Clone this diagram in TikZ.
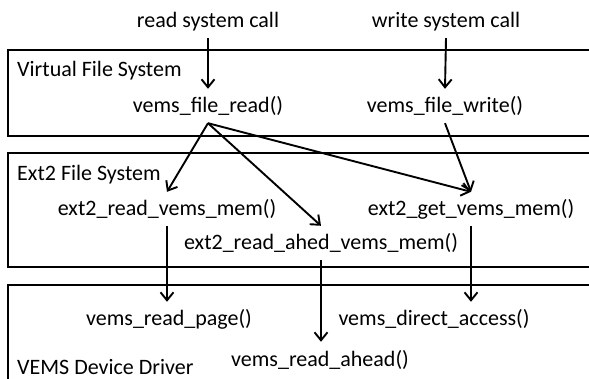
\documentclass[tikz,border=0pt]{standalone}
\usepackage{fontspec}
\setmainfont{Carlito}
\usetikzlibrary{arrows.meta}
\begin{document}
\begin{tikzpicture}[x=1pt,y=-1pt,
  layer/.style={line width=2pt},
  fn/.style={anchor=base,inner xsep=0pt,inner ysep=5pt,text height=19pt,text depth=5pt,
             font=\fontsize{22}{26}\selectfont},
  title/.style={anchor=base west,inner sep=0pt,font=\fontsize{22}{26}\selectfont},
  call/.style={line width=1.9pt,-{Straight Barb[length=8pt,width=13pt,line width=1.9pt]}}]
\useasboundingbox (0,0) rectangle (589,379);
\clip (0,0) rectangle (589,379);

% layer frames, open to the right (and the driver layer at the bottom)
\draw[layer] (600,50) -| (8,136) -- (600,136);
\draw[layer] (600,153) -| (8,267) -- (600,267);
\draw[layer] (600,285) -| (8,395);

% layer titles
\node[title] (vfs)  at (17,77)  {Virtual File System};
\node[title] (ext2) at (17,181) {Ext2 File System};
\node[title] (drv)  at (17,374) {VEMS Device Driver};

% system calls and functions
\node[fn] (rsc)  at (208,28)  {read system call};
\node[fn] (wsc)  at (446,28)  {write system call};
\node[fn] (vfr)  at (208,113) {vems\_file\_read()};
\node[fn] (vfw)  at (445,113) {vems\_file\_write()};
\node[fn] (ervm) at (167,216) {ext2\_read\_vems\_mem()};
\node[fn] (egvm) at (471,216) {ext2\_get\_vems\_mem()};
\node[fn] (erah) at (321,250) {ext2\_read\_ahed\_vems\_mem()};
\node[fn] (vrp)  at (169,326) {vems\_read\_page()};
\node[fn] (vra)  at (320,366) {vems\_read\_ahead()};
\node[fn] (vda)  at (434,326) {vems\_direct\_access()};

% call paths
\draw[call] (rsc.south) -- (vfr.north);
\draw[call] (wsc.south) -- (vfw.north);
\draw[call] (vfr.south) -- (ervm.north);
\draw[call] (vfr.south) -- (erah.north);
\draw[call] (vfr.south) -- (egvm.north);
\draw[call] (vfw.south) -- (egvm.north);
\draw[call] (ervm.south) -- (ervm.south |- vrp.north);
\draw[call] (erah.south) -- (erah.south |- vra.north);
\draw[call] (egvm.south) -- (egvm.south |- vda.north);
\end{tikzpicture}
\end{document}
